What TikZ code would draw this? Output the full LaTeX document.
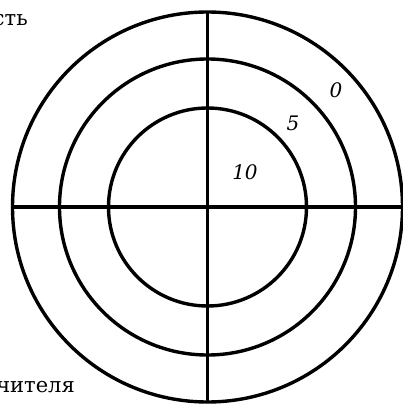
\documentclass[tikz,border=0pt]{standalone}
\usepackage{fontspec}
\setmainfont{DejaVu Serif}
\usetikzlibrary{positioning}

\begin{document}
\begin{tikzpicture}[x=1pt, y=1pt,
    ring/.style={line width=3.4pt},
    score/.style={font=\itshape\fontsize{20}{24}\selectfont},
    caption/.style={font=\fontsize{21}{25}\selectfont, inner sep=0pt, anchor=base east}]
    \useasboundingbox (-207.5,-197) rectangle (195.5,207);

    % Target rings
    \draw[ring] (0,0) circle (195);
    \draw[ring] (0,0) circle (148);
    \draw[ring] (0,0) circle (99);

    % Cross lines
    \coordinate (west) at (-195,0);
    \coordinate (east) at (195,0);
    \coordinate (north) at (0,195);
    \coordinate (south) at (0,-195);
    \draw[ring] (west) -- (east);
    \draw[ring] (south) -- (north);

    % Ring scores
    \node[score] (zero) at (128.5,117) {0};
    \node[score] (five) at (85.5,84) {5};
    \node[score] (ten) at (37.5,35) {10};

    % Axis captions (cut by the left edge)
    \node[caption] (topcap) at (-179.5,181) {сть};
    \node[caption] (botcap) at (-132.5,-185) {чителя};
\end{tikzpicture}
\end{document}
